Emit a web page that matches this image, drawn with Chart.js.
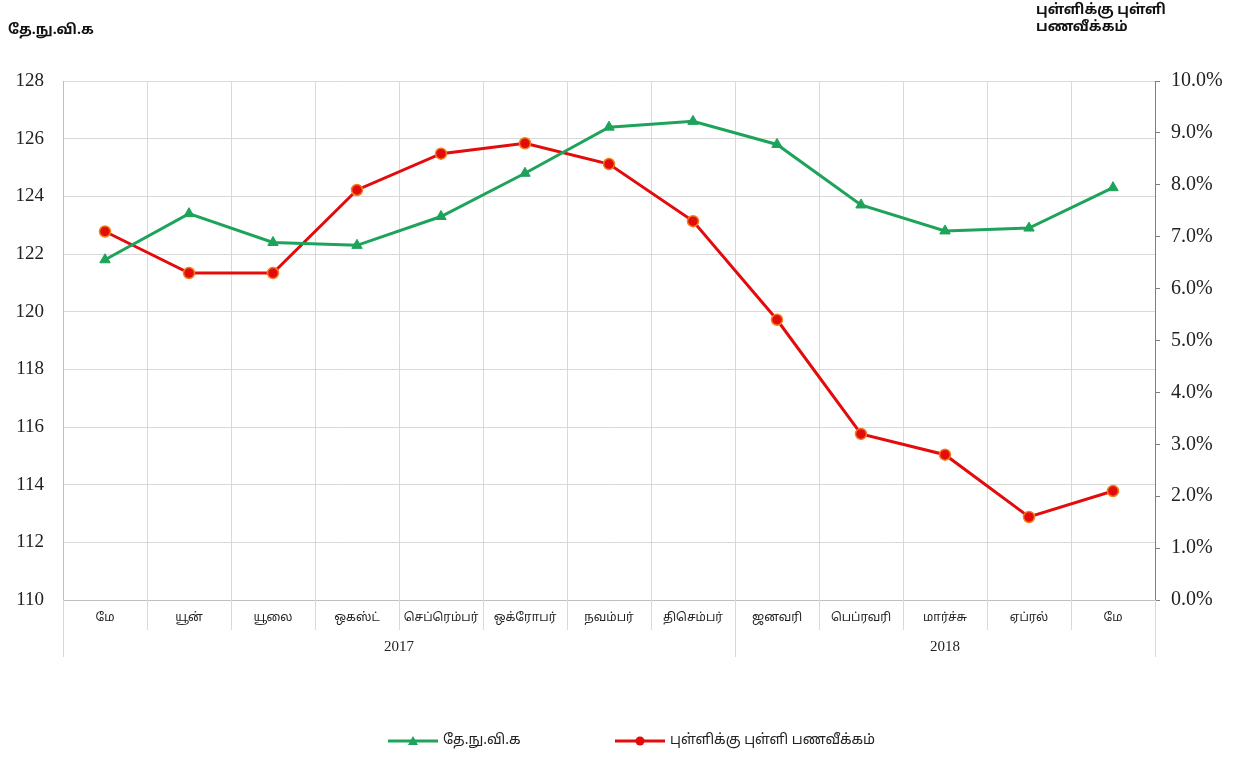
<!DOCTYPE html>
<html>
<head>
<meta charset="utf-8">
<script src="https://cdn.jsdelivr.net/npm/chart.js@4"></script>
<style>
  html, body { margin: 0; padding: 0; background: #fff; }
  #wrap { position: relative; width: 1242px; height: 757px; }
</style>
</head>
<body>
<div id="wrap"><canvas id="graficoPanavikkam" width="1242" height="757"></canvas></div>
<script>
// Data
const months = ["மே", "யூன்", "யூலை", "ஒகஸ்ட்", "செப்ரெம்பர்", "ஒக்ரோபர்", "நவம்பர்", "திசெம்பர்", "ஜனவரி", "பெப்ரவரி", "மார்ச்சு", "ஏப்ரல்", "மே"];
const years = ["2017", "2018"];
const yearSpans = [8, 5]; // months in each year
const ccpi = [121.8, 123.4, 122.4, 122.3, 123.3, 124.8, 126.4, 126.6, 125.8, 123.7, 122.8, 122.9, 124.3];
const inflation = [7.1, 6.3, 6.3, 7.9, 8.6, 8.8, 8.4, 7.3, 5.4, 3.2, 2.8, 1.6, 2.1];
const leftTicks = [110, 112, 114, 116, 118, 120, 122, 124, 126, 128];
const rightTicks = [0, 1, 2, 3, 4, 5, 6, 7, 8, 9, 10];

const seriesNames = ["தே.நு.வி.க", "புள்ளிக்கு புள்ளி பணவீக்கம்"];
const leftTitle = "தே.நு.வி.க";
const rightTitle = ["புள்ளிக்கு புள்ளி", "பணவீக்கம்"];

const verde = "#1ea35a";
const vermelho = "#e30b0b";
const grade = "#d9d9d9";
const tamilFont = "'Noto Sans Tamil', 'Latha', 'Lohit Tamil', 'Noto Sans', sans-serif";
const serifFont = "'Liberation Serif', 'Times New Roman', serif";

const extras = {
  id: "extras",
  afterDraw(chart) {
    const ctx = chart.ctx;
    const x = chart.scales.x;
    const area = chart.chartArea;
    const half = (x.getPixelForValue(1) - x.getPixelForValue(0)) / 2;
    const edge = (i) => x.getPixelForValue(i) - half;

    ctx.save();
    // month separators under the axis
    ctx.strokeStyle = grade;
    ctx.lineWidth = 1;
    const yearEdges = [0];
    yearSpans.forEach((n) => yearEdges.push(yearEdges[yearEdges.length - 1] + n));
    for (let i = 0; i <= months.length; i++) {
      const px = Math.round(edge(i)) + 0.5;
      const len = yearEdges.includes(i) ? 57 : 30;
      ctx.beginPath();
      ctx.moveTo(px, area.bottom);
      ctx.lineTo(px, area.bottom + len);
      ctx.stroke();
    }

    // year labels
    ctx.fillStyle = "#222";
    ctx.font = "15px " + serifFont;
    ctx.textAlign = "center";
    ctx.textBaseline = "middle";
    years.forEach((y, k) => {
      const cx = (edge(yearEdges[k]) + edge(yearEdges[k + 1])) / 2;
      ctx.fillText(y, cx, area.bottom + 47);
    });

    // axis titles
    ctx.font = "bold 14px " + tamilFont;
    ctx.textAlign = "left";
    ctx.fillStyle = "#111";
    ctx.fillText(leftTitle, 8, 31);
    ctx.fillText(rightTitle[0], 1036, 11);
    ctx.fillText(rightTitle[1], 1036, 28);

    // legend
    const legY = 741;
    const items = [
      { x: 388, color: verde, style: "triangle", text: seriesNames[0] },
      { x: 615, color: vermelho, style: "circle", text: seriesNames[1] },
    ];
    items.forEach((it) => {
      ctx.strokeStyle = it.color;
      ctx.lineWidth = 3;
      ctx.beginPath();
      ctx.moveTo(it.x, legY);
      ctx.lineTo(it.x + 50, legY);
      ctx.stroke();
      ctx.fillStyle = it.color;
      ctx.beginPath();
      if (it.style === "triangle") {
        ctx.moveTo(it.x + 25, legY - 5);
        ctx.lineTo(it.x + 30, legY + 4);
        ctx.lineTo(it.x + 20, legY + 4);
        ctx.closePath();
      } else {
        ctx.arc(it.x + 25, legY, 4.5, 0, Math.PI * 2);
      }
      ctx.fill();
      ctx.fillStyle = "#222";
      ctx.font = "14px " + tamilFont;
      ctx.textAlign = "left";
      ctx.fillText(it.text, it.x + 55, legY);
    });
    ctx.restore();
  },
};

new Chart(document.getElementById("graficoPanavikkam"), {
  type: "line",
  data: {
    labels: months,
    datasets: [
      {
        label: seriesNames[0],
        data: ccpi,
        yAxisID: "y",
        borderColor: verde,
        backgroundColor: verde,
        borderWidth: 3,
        pointStyle: "triangle",
        pointRadius: 6,
        pointBorderWidth: 1,
        pointBorderColor: verde,
        tension: 0,
      },
      {
        label: seriesNames[1],
        data: inflation,
        yAxisID: "y1",
        borderColor: vermelho,
        backgroundColor: vermelho,
        borderWidth: 3,
        pointStyle: "circle",
        pointRadius: 5.5,
        pointBorderWidth: 1.5,
        pointBorderColor: "#f0801a",
        tension: 0,
      },
    ],
  },
  options: {
    responsive: false,
    animation: false,
    layout: { padding: { top: 81, left: 0, right: 0, bottom: 0 } },
    plugins: { legend: { display: false }, tooltip: { enabled: false } },
    scales: {
      x: {
        offset: true,
        grid: { offset: true, color: grade, drawTicks: false },
        border: { color: "#bfbfbf" },
        ticks: {
          color: "#222",
          font: { family: tamilFont, size: 12 },
          padding: 11,
          maxRotation: 0,
          autoSkip: false,
        },
        afterFit(s) { s.height = 157; },
      },
      y: {
        position: "left",
        min: 110,
        max: 128,
        afterBuildTicks(s) { s.ticks = leftTicks.map((v) => ({ value: v })); },
        grid: { color: grade, drawTicks: false },
        border: { color: "#bfbfbf" },
        ticks: {
          color: "#222",
          font: { family: serifFont, size: 19 },
          padding: 19,
        },
        afterFit(s) { s.width = 63; },
      },
      y1: {
        position: "right",
        min: 0,
        max: 10,
        afterBuildTicks(s) { s.ticks = rightTicks.map((v) => ({ value: v })); },
        grid: { drawOnChartArea: false, color: "#7f7f7f", tickLength: 5 },
        border: { color: "#7f7f7f" },
        ticks: {
          color: "#222",
          font: { family: serifFont, size: 20 },
          padding: 11,
          callback: (v) => v.toFixed(1) + "%",
        },
        afterFit(s) { s.width = 87; },
      },
    },
  },
  plugins: [extras],
});
</script>
</body>
</html>
